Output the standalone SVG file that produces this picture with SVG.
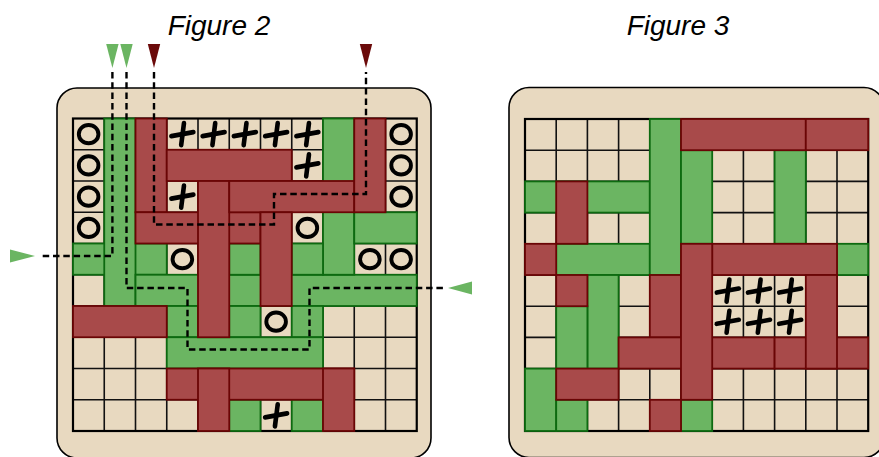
<svg xmlns="http://www.w3.org/2000/svg" xmlns:xlink="http://www.w3.org/1999/xlink" width="879" height="457" viewBox="0 0 879 457">
<style>
.bg{fill:#e8d9c0;stroke:#000;stroke-width:1.6}
.cellbg{fill:#e8d9c0}
.grid{fill:none;stroke:#111;stroke-width:1.6}
.frame{fill:none;stroke:#000;stroke-width:2.2}
.r{fill:#a84a4a;stroke:#6a0505;stroke-width:1.8}
.g{fill:#6bb562;stroke:#0d6a10;stroke-width:1.8}
.ring{fill:none;stroke:#000;stroke-width:3.9}
.plus{fill:none;stroke:#000;stroke-width:4.6;stroke-linecap:round}
.dash{fill:none;stroke:#000;stroke-width:2.4;stroke-dasharray:6.5 3.8}
.ag{fill:#6bb562}
.ar{fill:#6b0a0a}
.title{font-family:"Liberation Sans",Arial,sans-serif;font-style:italic;font-size:28px;fill:#000}
</style>
<defs>
<ellipse id="o" cx="0" cy="0" rx="9.8" ry="9.1" class="ring"/>
<g id="p" class="plus"><line x1="-11" y1="2" x2="11" y2="-2"/><line x1="1.6" y1="-11" x2="-1.2" y2="11"/></g>
</defs>

<text class="title" x="219" y="35" text-anchor="middle">Figure 2</text>
<text class="title" x="678" y="35" text-anchor="middle">Figure 3</text>

<g id="figure2">
<rect class="bg" x="57" y="88" width="374" height="370" rx="20"/>
<g transform="translate(73,118.5)">
<rect class="cellbg" x="0" y="0" width="343.75" height="312.5"/>
<path class="grid" d="M31.25 0V312.5M62.5 0V312.5M93.75 0V312.5M125 0V312.5M156.25 0V312.5M187.5 0V312.5M218.75 0V312.5M250 0V312.5M281.25 0V312.5M312.5 0V312.5M0 31.25H343.75M0 62.5H343.75M0 93.75H343.75M0 125H343.75M0 156.25H343.75M0 187.5H343.75M0 218.75H343.75M0 250H343.75M0 281.25H343.75"/>
<rect class="frame" x="0" y="0" width="343.75" height="312.5"/>
<g id="f2-green">
<rect class="g" x="0" y="125" width="93.75" height="31.25"/>
<rect class="g" x="31.25" y="0" width="31.25" height="187.5"/>
<rect class="g" x="62.5" y="156.25" width="281.25" height="31.25"/>
<rect class="g" x="250" y="0" width="31.25" height="156.25"/>
<rect class="g" x="281.25" y="93.75" width="62.5" height="31.25"/>
<rect class="g" x="156.25" y="125" width="31.25" height="31.25"/>
<rect class="g" x="218.75" y="125" width="31.25" height="31.25"/>
<rect class="g" x="93.75" y="187.5" width="31.25" height="31.25"/>
<rect class="g" x="156.25" y="187.5" width="31.25" height="31.25"/>
<rect class="g" x="218.75" y="187.5" width="31.25" height="31.25"/>
<rect class="g" x="93.75" y="218.75" width="156.25" height="31.25"/>
<rect class="g" x="156.25" y="281.25" width="31.25" height="31.25"/>
<rect class="g" x="218.75" y="281.25" width="31.25" height="31.25"/>
</g>
<g id="f2-red">
<rect class="r" x="62.5" y="0" width="31.25" height="93.75"/>
<rect class="r" x="93.75" y="31.25" width="125" height="31.25"/>
<rect class="r" x="62.5" y="93.75" width="125" height="31.25"/>
<rect class="r" x="125" y="62.5" width="31.25" height="156.25"/>
<rect class="r" x="156.25" y="62.5" width="125" height="31.25"/>
<rect class="r" x="281.25" y="0" width="31.25" height="93.75"/>
<rect class="r" x="187.5" y="93.75" width="31.25" height="93.75"/>
<rect class="r" x="0" y="187.5" width="93.75" height="31.25"/>
<rect class="r" x="93.75" y="250" width="187.5" height="31.25"/>
<rect class="r" x="125" y="250" width="31.25" height="62.5"/>
<rect class="r" x="250" y="250" width="31.25" height="62.5"/>
</g>
<g id="f2-marks">
<use xlink:href="#o" x="15.625" y="15.625"/>
<use xlink:href="#o" x="15.625" y="46.875"/>
<use xlink:href="#o" x="15.625" y="78.125"/>
<use xlink:href="#o" x="15.625" y="109.375"/>
<use xlink:href="#o" x="328.125" y="15.625"/>
<use xlink:href="#o" x="328.125" y="46.875"/>
<use xlink:href="#o" x="328.125" y="78.125"/>
<use xlink:href="#o" x="234.375" y="109.375"/>
<use xlink:href="#o" x="109.375" y="140.625"/>
<use xlink:href="#o" x="296.875" y="140.625"/>
<use xlink:href="#o" x="328.125" y="140.625"/>
<use xlink:href="#o" x="203.125" y="203.125"/>
<use xlink:href="#p" x="109.375" y="15.625"/>
<use xlink:href="#p" x="140.625" y="15.625"/>
<use xlink:href="#p" x="171.875" y="15.625"/>
<use xlink:href="#p" x="203.125" y="15.625"/>
<use xlink:href="#p" x="234.375" y="15.625"/>
<use xlink:href="#p" x="234.375" y="46.875"/>
<use xlink:href="#p" x="109.375" y="78.125"/>
<use xlink:href="#p" x="203.125" y="296.875"/>
</g>
</g>
</g>

<g id="figure3">
<rect class="bg" x="509" y="87.5" width="375" height="370" rx="20"/>
<g transform="translate(525,119)">
<rect class="cellbg" x="0" y="0" width="343.2" height="312"/>
<path class="grid" d="M31.2 0V312M62.4 0V312M93.6 0V312M124.8 0V312M156 0V312M187.2 0V312M218.4 0V312M249.6 0V312M280.8 0V312M312 0V312M0 31.2H343.2M0 62.4H343.2M0 93.6H343.2M0 124.8H343.2M0 156H343.2M0 187.2H343.2M0 218.4H343.2M0 249.6H343.2M0 280.8H343.2"/>
<rect class="frame" x="0" y="0" width="343.2" height="312"/>
<g id="f3-green">
<rect class="g" x="0" y="62.4" width="124.8" height="31.2"/>
<rect class="g" x="31.2" y="124.8" width="93.6" height="31.2"/>
<rect class="g" x="124.8" y="0" width="31.2" height="156"/>
<rect class="g" x="156" y="31.2" width="31.2" height="93.6"/>
<rect class="g" x="249.6" y="31.2" width="31.2" height="93.6"/>
<rect class="g" x="62.4" y="156" width="31.2" height="93.6"/>
<rect class="g" x="31.2" y="187.2" width="31.2" height="62.4"/>
<rect class="g" x="312" y="124.8" width="31.2" height="31.2"/>
<rect class="g" x="0" y="249.6" width="31.2" height="62.4"/>
<rect class="g" x="31.2" y="280.8" width="31.2" height="31.2"/>
<rect class="g" x="156" y="280.8" width="31.2" height="31.2"/>
</g>
<g id="f3-red">
<rect class="r" x="156" y="0" width="124.8" height="31.2"/>
<rect class="r" x="280.8" y="0" width="62.4" height="31.2"/>
<rect class="r" x="31.2" y="62.4" width="31.2" height="62.4"/>
<rect class="r" x="0" y="124.8" width="31.2" height="31.2"/>
<rect class="r" x="31.2" y="156" width="31.2" height="31.2"/>
<rect class="r" x="124.8" y="156" width="31.2" height="62.4"/>
<rect class="r" x="93.6" y="218.4" width="156" height="31.2"/>
<rect class="r" x="249.6" y="218.4" width="93.6" height="31.2"/>
<rect class="r" x="187.2" y="124.8" width="124.8" height="31.2"/>
<rect class="r" x="156" y="124.8" width="31.2" height="156"/>
<rect class="r" x="280.8" y="156" width="31.2" height="93.6"/>
<rect class="r" x="31.2" y="249.6" width="62.4" height="31.2"/>
<rect class="r" x="124.8" y="280.8" width="31.2" height="31.2"/>
</g>
<g id="f3-marks">
<use xlink:href="#p" x="202.8" y="171.6"/>
<use xlink:href="#p" x="234" y="171.6"/>
<use xlink:href="#p" x="265.2" y="171.6"/>
<use xlink:href="#p" x="202.8" y="202.8"/>
<use xlink:href="#p" x="234" y="202.8"/>
<use xlink:href="#p" x="265.2" y="202.8"/>
</g>
</g>
</g>

<g id="connectors">
<path class="dash" d="M112.4 72V256H40"/>
<path class="dash" d="M126.5 72V288H187.5V349.5H309.5V288H443"/>
<path class="dash" d="M154 72V224.5H274V194H366V72"/>
</g>
<g id="arrows">
<polygon class="ag" points="106.2,44 118.6,44 112.4,68"/>
<polygon class="ag" points="120.3,44 132.7,44 126.5,68"/>
<polygon class="ar" points="147.8,44 160.2,44 154,68"/>
<polygon class="ar" points="359.8,44 372.2,44 366,68"/>
<polygon class="ag" points="10,249.5 10,262.5 35,256"/>
<polygon class="ag" points="472,281.5 472,294.5 448,288"/>
</g>
</svg>
